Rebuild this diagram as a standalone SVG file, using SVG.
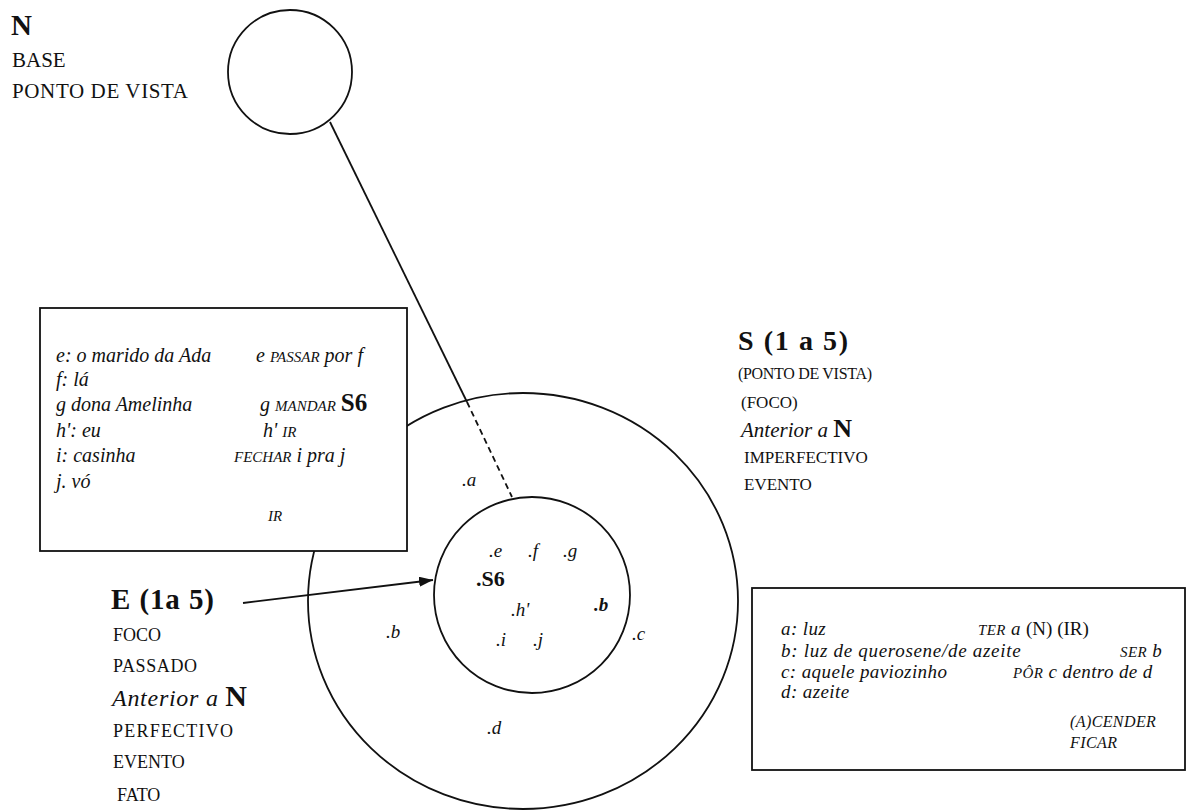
<svg xmlns="http://www.w3.org/2000/svg" width="1187" height="811" viewBox="0 0 1187 811">
<defs>
<style>
text{font-family:"Liberation Serif","Times New Roman",serif;fill:#111}
.lb{font-size:21px}
.bd{font-weight:bold}
.sc{font-size:15px}
.bt{font-size:20px;font-style:italic}
.rt{font-size:19px;font-style:italic;letter-spacing:0.4px}
.rs{font-size:16px;font-style:italic;letter-spacing:0.4px}
.pt{font-size:19px;font-style:italic}
.shape{fill:#fff;stroke:#111;stroke-width:1.8}
.ln{stroke:#111;stroke-width:1.8;fill:none}
.dash{stroke-dasharray:6 4}
</style>
<marker id="ah" viewBox="0 0 14 10" refX="14" refY="5" markerWidth="14" markerHeight="10" markerUnits="userSpaceOnUse" orient="auto" preserveAspectRatio="none">
<path d="M0,0 L14,5 L0,10 z" fill="#111"/>
</marker>
</defs>
<rect width="1187" height="811" fill="#fff"/>

<g id="node-N">
<circle class="shape" cx="290" cy="72" r="62"/>
</g>
<g id="label-N">
<text class="bd" x="11" y="35" font-size="29">N</text>
<text class="lb" x="12" y="67">BASE</text>
<text class="lb" x="12" y="98" textLength="176">PONTO DE VISTA</text>
</g>

<g id="node-S">
<ellipse class="shape" cx="523" cy="601" rx="215" ry="208"/>
</g>

<g id="node-E">
<circle class="shape" cx="532" cy="595" r="98"/>
</g>

<g id="box-left">
<rect class="shape" x="40" y="308" width="367" height="243"/>
<text class="bt" x="56" y="362">e: o marido da Ada</text>
<text class="bt" x="256" y="362">e <tspan class="sc">PASSAR</tspan> por f</text>
<text class="bt" x="56" y="386">f: lá</text>
<text class="bt" x="56" y="411">g dona Amelinha</text>
<text class="bt" x="260" y="411">g <tspan class="sc">MANDAR</tspan> <tspan font-style="normal" font-weight="bold" font-size="25">S6</tspan></text>
<text class="bt" x="56" y="437">h': eu</text>
<text class="bt" x="263" y="437">h' <tspan class="sc">IR</tspan></text>
<text class="bt" x="56" y="462">i: casinha</text>
<text class="bt" x="234" y="462"><tspan class="sc">FECHAR</tspan> i pra j</text>
<text class="bt" x="56" y="488">j. vó</text>
<text class="bt" x="268" y="521"><tspan class="sc">IR</tspan></text>
</g>

<g id="box-right">
<rect class="shape" x="752" y="588" width="433" height="182"/>
<text class="rt" x="781" y="635">a: luz</text>
<text class="rt" x="978" y="635"><tspan class="sc">TER</tspan> a</text>
<text x="1026" y="635" font-size="19">(N) (IR)</text>
<text class="rt" x="781" y="657" textLength="240">b: luz de querosene/de azeite</text>
<text class="rt" x="1120" y="657"><tspan class="sc">SER</tspan> b</text>
<text class="rt" x="781" y="678">c: aquele paviozinho</text>
<text class="rt" x="1013" y="678"><tspan class="sc">PÔR</tspan> c dentro de d</text>
<text class="rt" x="781" y="698">d: azeite</text>
<text class="rs" x="1070" y="727">(A)CENDER</text>
<text class="rs" x="1070" y="748">FICAR</text>
</g>

<g id="label-S">
<text class="bd" x="738" y="350" font-size="28" textLength="110">S (1 a 5)</text>
<text x="738" y="379" font-size="16" textLength="134">(PONTO DE VISTA)</text>
<text x="741" y="408" font-size="17">(FOCO)</text>
<text x="741" y="437" font-size="21"><tspan font-style="italic">Anterior a </tspan><tspan font-weight="bold" font-size="26">N</tspan></text>
<text x="744" y="463" font-size="17">IMPERFECTIVO</text>
<text x="744" y="490" font-size="17">EVENTO</text>
</g>

<g id="label-E">
<text class="bd" x="111" y="609" font-size="29" textLength="103">E (1a 5)</text>
<text x="113" y="641" font-size="18">FOCO</text>
<text x="113" y="672" font-size="18" textLength="84">PASSADO</text>
<text x="112" y="706" font-size="24" textLength="135"><tspan font-style="italic">Anterior a </tspan><tspan font-weight="bold" font-size="30">N</tspan></text>
<text x="113" y="737" font-size="18" textLength="120">PERFECTIVO</text>
<text x="113" y="768" font-size="18">EVENTO</text>
<text x="117" y="801" font-size="18">FATO</text>
</g>

<g id="points">
<text class="pt" x="462" y="486">.a</text>
<text class="pt" x="489" y="557">.e</text>
<text class="pt" x="528" y="557">.f</text>
<text class="pt" x="563" y="557">.g</text>
<text class="bd" x="476" y="586" font-size="22">.S6</text>
<text class="pt" x="511" y="616">.h'</text>
<text class="pt bd" x="594" y="611">.b</text>
<text class="pt" x="496" y="646">.i</text>
<text class="pt" x="533" y="646">.j</text>
<text class="pt" x="386" y="638">.b</text>
<text class="pt" x="632" y="640">.c</text>
<text class="pt" x="487" y="734">.d</text>
</g>

<g id="connectors">
<line class="ln" x1="330" y1="122" x2="467" y2="402"/>
<line class="ln dash" x1="467" y1="402" x2="512" y2="497"/>
<line class="ln" x1="243" y1="603" x2="433" y2="580" marker-end="url(#ah)"/>
</g>
</svg>
